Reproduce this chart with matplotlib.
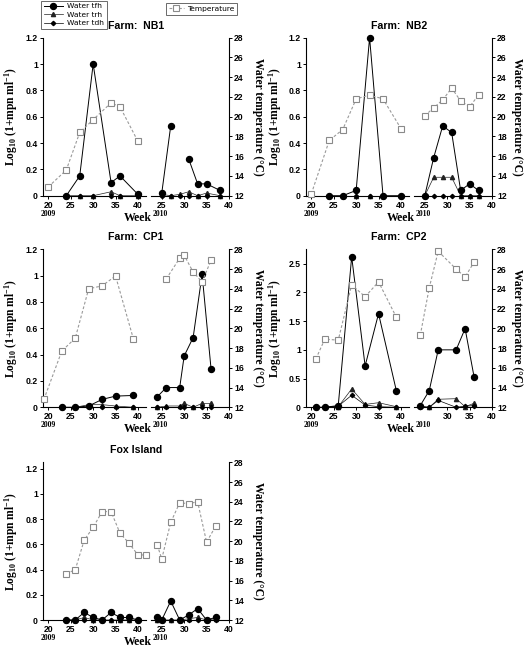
import numpy as np
import matplotlib
matplotlib.use('Agg')
import matplotlib.pyplot as plt
from matplotlib.ticker import FuncFormatter, MultipleLocator

nan = np.nan

# ---------------- data ----------------
# NB1
NB1_09_wk = [24, 27, 30, 34, 36, 40]
NB1_09_tfh = [0, 0.15, 1.0, 0.10, 0.15, 0.01]
NB1_09_trh = [0, 0, 0, 0.03, 0, 0]
NB1_09_tdh = [0, 0, 0, 0, 0, 0]
NB1_09_twk = [20, 24, 27, 30, 34, 36, 40]
NB1_09_temp = [12.9, 14.6, 18.4, 19.7, 21.4, 21.0, 17.5]
NB1_10_wk = [25, 27, 29, 31, 33, 35, 38]
NB1_10_tfh = [0.02, 0.53, nan, 0.28, 0.09, 0.09, 0.04]
NB1_10_trh = [0.01, 0, 0.01, 0.03, 0, 0.02, 0]
NB1_10_tdh = [0, 0, 0, 0, 0, 0, 0]
NB1_10_twk = []
NB1_10_temp = []

# NB2
NB2_09_wk = [24, 27, 30, 33, 36, 40]
NB2_09_tfh = [0, 0, 0.04, 1.2, 0, 0]
NB2_09_trh = [0, 0, 0, 0, 0, 0]
NB2_09_tdh = [0, 0, 0, 0, 0, 0]
NB2_09_twk = [20, 24, 27, 30, 33, 36, 40]
NB2_09_temp = [12.2, 17.6, 18.7, 21.8, 22.2, 21.8, 18.8]
NB2_10_wk = [25, 27, 29, 31, 33, 35, 37]
NB2_10_tfh = [0, 0.29, 0.53, 0.48, 0.04, 0.09, 0.04]
NB2_10_trh = [0, 0.14, 0.14, 0.14, 0, 0, 0]
NB2_10_tdh = [0, 0, 0, 0, 0, 0, 0]
NB2_10_twk = [25, 27, 29, 31, 33, 35, 37]
NB2_10_temp = [20.1, 20.9, 21.7, 22.9, 21.6, 21.0, 22.2]

# CP1
CP1_09_wk = [23, 26, 29, 32, 35, 39]
CP1_09_tfh = [0, 0, 0.01, 0.06, 0.085, 0.09]
CP1_09_trh = [0, 0, 0.02, 0.02, 0.01, 0]
CP1_09_tdh = [0, 0, 0, 0, 0, 0]
CP1_09_twk = [19, 23, 26, 29, 32, 35, 39]
CP1_09_temp = [12.8, 17.7, 19.0, 24.0, 24.3, 25.3, 18.9]
CP1_10_wk = [24, 26, 29, 30, 32, 34, 36]
CP1_10_tfh = [0.08, 0.15, 0.15, 0.39, 0.53, 1.01, 0.29]
CP1_10_trh = [0, 0.01, 0.01, 0.03, 0, 0.03, 0.03]
CP1_10_tdh = [0, 0, 0, 0, 0, 0, 0]
CP1_10_twk = [26, 29, 30, 32, 34, 36]
CP1_10_temp = [25.0, 27.1, 27.4, 25.7, 24.7, 26.9]

# CP2
CP2_09_wk = [21, 23, 26, 29, 32, 35, 39]
CP2_09_tfh = [0, 0, 0.03, 2.62, 0.72, 1.63, 0.28]
CP2_09_trh = [0, 0, 0.01, 0.32, 0.05, 0.08, 0.01]
CP2_09_tdh = [0, 0, 0.02, 0.21, 0.04, 0.01, 0]
CP2_09_twk = [21, 23, 26, 29, 32, 35, 39]
CP2_09_temp = [16.9, 18.9, 18.8, 24.4, 23.2, 24.7, 21.1]
CP2_10_wk = [24, 26, 28, 32, 34, 36]
CP2_10_tfh = [0.03, 0.29, 1.0, 1.0, 1.37, 0.53]
CP2_10_trh = [0.02, 0, 0.14, 0.15, 0.01, 0.07]
CP2_10_tdh = [0.01, 0, 0.12, 0, 0.02, 0.03]
CP2_10_twk = [24, 26, 28, 32, 34, 36]
CP2_10_temp = [19.3, 24.1, 27.8, 26.0, 25.2, 26.7]

# Fox Island
FOX_09_wk = [24, 26, 28, 30, 32, 34, 36, 38, 40]
FOX_09_tfh = [0, 0, 0.06, 0.02, 0, 0.06, 0.02, 0.02, 0]
FOX_09_trh = [0, 0, 0.02, 0, 0, 0, 0, 0, 0]
FOX_09_tdh = [0, 0, 0, 0, 0, 0, 0, 0, 0]
FOX_09_twk = [24, 26, 28, 30, 32, 34, 36, 38, 40, 41.7]
FOX_09_temp = [16.7, 17.1, 20.1, 21.4, 23.0, 23.0, 20.8, 19.8, 18.6, 18.6]
FOX_10_wk = [24, 25, 27, 29, 31, 33, 35, 37]
FOX_10_tfh = [0.02, 0, 0.15, 0, 0.04, 0.09, 0, 0.02]
FOX_10_trh = [0, 0, 0, 0, 0.01, 0.02, 0, 0.01]
FOX_10_tdh = [0, 0, 0, 0, 0, 0, 0, 0]
FOX_10_twk = [24, 25, 27, 29, 31, 33, 35, 37]
FOX_10_temp = [19.6, 18.2, 21.9, 23.9, 23.8, 24.0, 19.9, 21.5]

SERIES_LABELS = ['Water tfh', 'Water trh', 'Water tdh']
TEMP_LABEL = 'Temperature'
TICKS_09 = [20, 25, 30, 35, 40]
TICKS_10 = [25, 30, 35, 40]
TEMP_TICKS = [12, 14, 16, 18, 20, 22, 24, 26, 28]

# ---------------- layout ----------------
W, H = 532, 647
fig = plt.figure(figsize=(W / 100, H / 100), dpi=100)
plt.rcParams['mathtext.fontset'] = 'custom'
plt.rcParams['mathtext.rm'] = 'Liberation Serif:bold'
plt.rcParams['mathtext.it'] = 'Liberation Serif:bold'
plt.rcParams['mathtext.bf'] = 'Liberation Serif:bold'
plt.rcParams['mathtext.default'] = 'rm'

SANS = 'Liberation Sans'
SERIF = 'Liberation Serif'
TICKFS = 6.2


def rect(x0, x1, yt, yb):
    return [x0 / W, 1 - yb / H, (x1 - x0) / W, (yb - yt) / H]


COLS = {'L': (43, 146, 151, 229), 'R': (306, 409, 414, 492)}
ROWS = {0: (37.7, 195.7), 1: (249.3, 407.3), 2: (462.3, 620)}
RLAB = {'L': 258, 'R': 517}
LLAB = {'L': 11, 'R': 275}

fmt = FuncFormatter(lambda v, p: '{:g}'.format(round(v, 3)))


def style_ticks(ax):
    for lab in ax.get_xticklabels() + ax.get_yticklabels():
        lab.set_fontfamily(SANS)
        lab.set_fontweight('bold')
        lab.set_fontsize(TICKFS)


def draw_seg(a, t, wk, tfh, trh, tdh, twk, temp):
    h1, = a.plot(wk, tfh, '-o', color='black', lw=0.7, ms=4.3, clip_on=False, zorder=4)
    h2, = a.plot(wk, trh, '-^', color='#222222', lw=0.5, ms=3.0, clip_on=False, zorder=3)
    h3, = a.plot(wk, tdh, '-D', color='black', lw=0.5, ms=2.2, clip_on=False, zorder=3)
    h4, = t.plot(twk, temp, color='#9a9a9a', ls=(0, (2.5, 1.8)), lw=0.8, marker='s',
                 ms=4.5, mfc='white', mec='#8a8a8a', mew=0.8, clip_on=False)
    return h1, h2, h3, h4


def panel(col, row, title, ymax, ystep, d09, d10, ticks10=TICKS_10):
    x0, x1, x2, x3 = COLS[col]
    yt, yb = ROWS[row]
    a1 = fig.add_axes(rect(x0, x1, yt, yb))
    a2 = fig.add_axes(rect(x2, x3, yt, yb), sharey=a1)
    t1 = a1.twinx()
    t2 = a2.twinx()
    a1.set_xlim(18.8, 41.8)
    a2.set_xlim(22.6, 40)
    a1.set_ylim(0, ymax)
    for t in (t1, t2):
        t.set_ylim(12, 28)
    hs = draw_seg(a1, t1, *d09)
    draw_seg(a2, t2, *d10)
    for a in (a1, a2, t1, t2):
        for s in a.spines.values():
            s.set_visible(False)
        a.patch.set_visible(False)
    a1.spines['left'].set_visible(True)
    a1.spines['bottom'].set_visible(True)
    a2.spines['bottom'].set_visible(True)
    t2.spines['right'].set_visible(True)
    for a in (a1, a2, t1, t2):
        for s in a.spines.values():
            s.set_linewidth(0.8)
    a1.set_xticks(TICKS_09)
    a2.set_xticks(ticks10)
    a1.yaxis.set_major_locator(MultipleLocator(ystep))
    a1.yaxis.set_major_formatter(fmt)
    a1.tick_params(axis='both', direction='out', length=2.5, width=0.7, pad=1.2)
    a2.tick_params(axis='x', direction='out', length=2.5, width=0.7, pad=1.2)
    a2.tick_params(axis='y', left=False, labelleft=False)
    t1.tick_params(axis='y', right=False, labelright=False)
    t2.set_yticks(TEMP_TICKS)
    t2.tick_params(axis='y', direction='out', length=2.5, width=0.7, pad=1.2)
    for a in (a1, a2, t2):
        style_ticks(a)
    # labels
    a1.set_ylabel(r'Log$_{10}$ (1+mpn ml$^{-1}$)', fontfamily=SERIF,
                  fontweight='bold', fontsize=8.3)
    a1.yaxis.set_label_coords((LLAB[col] - x0) / (x1 - x0), 0.5)
    a1.yaxis.label.set_va('center')
    a1.yaxis.label.set_ha('center')
    t2.set_ylabel('Water temperature (\u00b0C)', fontfamily=SERIF, fontweight='bold',
                  fontsize=8.3, rotation=-90)
    t2.yaxis.set_label_coords((RLAB[col] - x2) / (x3 - x2), 0.5)
    t2.yaxis.label.set_va('center')
    t2.yaxis.label.set_ha('center')
    a1.text(20, -0.088, '2009', transform=a1.get_xaxis_transform(), ha='center', va='top',
            fontfamily=SERIF, fontweight='bold', fontsize=5.6)
    a2.text(24.6, -0.088, '2010', transform=a2.get_xaxis_transform(), ha='center', va='top',
            fontfamily=SERIF, fontweight='bold', fontsize=5.6)
    cx = (x0 + x3) / 2
    fig.text(cx / W, 1 - (yt - 12) / H, title, ha='center', va='center',
             fontfamily=SANS, fontweight='bold', fontsize=7.6)
    fig.text((cx + 2) / W, 1 - (yb + 22) / H, 'Week', ha='center', va='center',
             fontfamily=SERIF, fontweight='bold', fontsize=8.5)
    return hs


hs = panel('L', 0, 'Farm:  NB1', 1.2, 0.2,
           (NB1_09_wk, NB1_09_tfh, NB1_09_trh, NB1_09_tdh, NB1_09_twk, NB1_09_temp),
           (NB1_10_wk, NB1_10_tfh, NB1_10_trh, NB1_10_tdh, NB1_10_twk, NB1_10_temp))
panel('R', 0, 'Farm:  NB2', 1.2, 0.2,
      (NB2_09_wk, NB2_09_tfh, NB2_09_trh, NB2_09_tdh, NB2_09_twk, NB2_09_temp),
      (NB2_10_wk, NB2_10_tfh, NB2_10_trh, NB2_10_tdh, NB2_10_twk, NB2_10_temp))
panel('L', 1, 'Farm:  CP1', 1.2, 0.2,
      (CP1_09_wk, CP1_09_tfh, CP1_09_trh, CP1_09_tdh, CP1_09_twk, CP1_09_temp),
      (CP1_10_wk, CP1_10_tfh, CP1_10_trh, CP1_10_tdh, CP1_10_twk, CP1_10_temp))
panel('R', 1, 'Farm:  CP2', 2.75, 0.5,
      (CP2_09_wk, CP2_09_tfh, CP2_09_trh, CP2_09_tdh, CP2_09_twk, CP2_09_temp),
      (CP2_10_wk, CP2_10_tfh, CP2_10_trh, CP2_10_tdh, CP2_10_twk, CP2_10_temp),
      ticks10=[30, 35, 40])
panel('L', 2, 'Fox Island', 1.25, 0.2,
      (FOX_09_wk, FOX_09_tfh, FOX_09_trh, FOX_09_tdh, FOX_09_twk, FOX_09_temp),
      (FOX_10_wk, FOX_10_tfh, FOX_10_trh, FOX_10_tdh, FOX_10_twk, FOX_10_temp))

leg1 = fig.legend(handles=list(hs[:3]), labels=SERIES_LABELS, loc='upper left',
                  bbox_to_anchor=(41 / W, 1 - 0.5 / H), frameon=True, fancybox=False,
                  edgecolor='#444444', fontsize=5.4, numpoints=1, handlelength=2.6,
                  borderpad=0.35, labelspacing=0.3, handletextpad=0.5, borderaxespad=0)
leg1.get_frame().set_linewidth(0.7)
leg2 = fig.legend(handles=[hs[3]], labels=[TEMP_LABEL], loc='upper left',
                  bbox_to_anchor=(166 / W, 1 - 3 / H), frameon=True, fancybox=False,
                  edgecolor='#444444', fontsize=5.4, numpoints=1, handlelength=2.0,
                  borderpad=0.35, handletextpad=0.4, borderaxespad=0)
leg2.get_frame().set_linewidth(0.7)

fig.savefig('out.png', dpi=100)
